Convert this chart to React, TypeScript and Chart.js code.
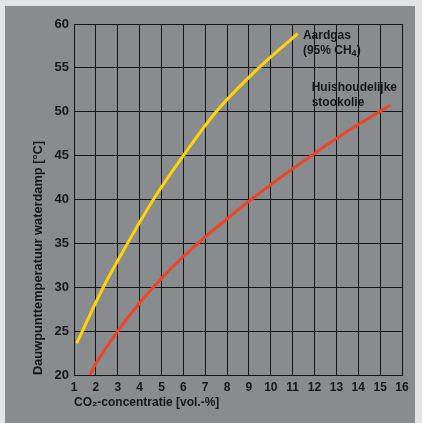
import React, { useEffect, useRef } from "react";
import { Chart, registerables } from "chart.js";

Chart.register(...registerables);

// CO2 concentration [vol.-%] and dew point [°C]
const gasX = [1.12, 2.34, 3.45, 4.63, 6.0, 7.5, 9.45, 11.23];
const gasY = [23.6, 30.0, 35.0, 40.0, 45.0, 50.0, 55.0, 58.9];

const oilX = [1.73, 2.0, 3.0, 4.0, 5.0, 6.0, 7.0, 8.0, 9.0, 10.0, 11.0, 12.0, 13.0, 14.0, 15.0, 15.45];
const oilY = [20.0, 21.3, 25.0, 28.2, 31.0, 33.5, 35.75, 37.8, 39.8, 41.7, 43.5, 45.25, 46.95, 48.55, 50.05, 50.75];

const xMin = 1;
const xMax = 16;
const yMin = 20;
const yMax = 60;

// label lines: segments of [text, isSubscript]
const gasLabel: [string, boolean][][] = [
  [["Aardgas", false]],
  [["(95% CH", false], ["4", true], [")", false]],
];
const gasLabelAt = [11.47, 58.3];
const oilLabel: [string, boolean][][] = [
  [["Huishoudelijke", false]],
  [["stookolie", false]],
];
const oilLabelAt = [11.87, 52.33];

const xTitle = "CO\u2082-concentratie [vol.-%]";
const yTitle = "Dauwpunttemperatuur waterdamp [\u00b0C]";

const FONT = '"Liberation Sans", Arial, Helvetica, sans-serif';
const INK = "#161616";
const GRID = "#141414";

const labelPlugin = {
  id: "curveLabels",
  afterDatasetsDraw(chart: any) {
    const { ctx, scales } = chart;
    const items = [
      { lines: gasLabel, at: gasLabelAt },
      { lines: oilLabel, at: oilLabelAt },
    ];
    ctx.save();
    ctx.fillStyle = INK;
    ctx.textAlign = "left";
    ctx.textBaseline = "alphabetic";
    for (const it of items) {
      const px = scales.x.getPixelForValue(it.at[0]);
      const py = scales.y.getPixelForValue(it.at[1]);
      it.lines.forEach((segs, i) => {
        let x = px;
        const y = py + i * 15;
        for (const [t, sub] of segs) {
          ctx.font = sub ? `bold 9px ${FONT}` : `bold 12px ${FONT}`;
          ctx.fillText(t, x, sub ? y + 2 : y);
          x += ctx.measureText(t).width;
        }
      });
    }
    ctx.restore();
  },
};

export default function App() {
  const ref = useRef<HTMLCanvasElement | null>(null);

  useEffect(() => {
    if (!ref.current) return;
    const chart = new Chart(ref.current, {
      type: "scatter",
      data: {
        datasets: [
          {
            label: "Aardgas",
            data: gasX.map((x, i) => ({ x, y: gasY[i] })),
            showLine: true,
            borderColor: "#ffd400",
            borderWidth: 3,
            pointRadius: 0,
            cubicInterpolationMode: "monotone",
          },
          {
            label: "Huishoudelijke stookolie",
            data: oilX.map((x, i) => ({ x, y: oilY[i] })),
            showLine: true,
            borderColor: "#ee4424",
            borderWidth: 3,
            pointRadius: 0,
            cubicInterpolationMode: "monotone",
          },
        ],
      },
      options: {
        responsive: false,
        animation: false,
        layout: { padding: { left: 0, top: 24, right: 20, bottom: 0 } },
        plugins: { legend: { display: false }, tooltip: { enabled: false } },
        scales: {
          x: {
            type: "linear",
            min: xMin,
            max: xMax,
            afterFit: (s: any) => {
              s.height = 48;
            },
            ticks: {
              stepSize: 1,
              padding: 5,
              color: INK,
              font: { family: FONT, size: 12, weight: "bold" },
            },
            grid: { color: GRID, lineWidth: 1, drawTicks: false },
            border: { color: GRID, width: 1 },
            title: {
              display: true,
              text: xTitle,
              align: "start",
              color: INK,
              font: { family: FONT, size: 12, weight: "bold" },
              padding: { top: 0, bottom: 12.8 },
            },
          },
          y: {
            type: "linear",
            min: yMin,
            max: yMax,
            afterFit: (s: any) => {
              s.width = 74;
            },
            ticks: {
              stepSize: 5,
              padding: 5,
              color: INK,
              font: { family: FONT, size: 13, weight: "bold" },
            },
            grid: { color: GRID, lineWidth: 1, drawTicks: false },
            border: { color: GRID, width: 1 },
            title: {
              display: true,
              text: yTitle,
              align: "start",
              color: INK,
              font: { family: FONT, size: 12.8, weight: "bold" },
              padding: { top: 30.8, bottom: 0 },
            },
          },
        },
      },
      plugins: [labelPlugin],
    } as any);
    return () => chart.destroy();
  }, []);

  return (
    <div style={{ position: "fixed", left: 0, top: 0, width: 422, height: 423, background: "#e1e3e4" }}>
      <div style={{ position: "absolute", left: 5, top: 6, width: 410, height: 417, background: "#898c8f" }} />
      <canvas ref={ref} width={422} height={423} style={{ position: "absolute", left: 0, top: 0, width: 422, height: 423 }} />
    </div>
  );
}
